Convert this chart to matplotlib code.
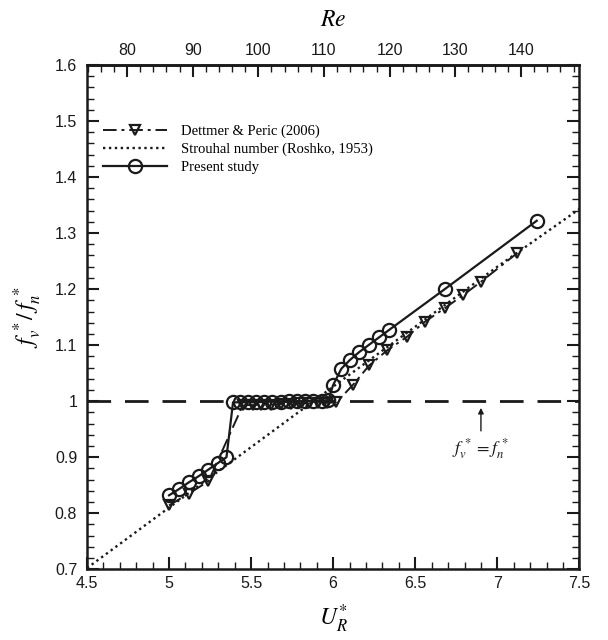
import matplotlib
matplotlib.use("Agg")
import matplotlib.pyplot as plt
from matplotlib.ticker import MultipleLocator, FuncFormatter

# ---------------- data ----------------
u_present = [5.00, 5.06, 5.12, 5.18, 5.24, 5.30, 5.35,
             5.39, 5.43, 5.48, 5.53, 5.58, 5.63, 5.68, 5.73, 5.78, 5.83, 5.88, 5.93, 5.97,
             6.00, 6.05, 6.10, 6.16, 6.22, 6.28, 6.34, 6.68, 7.24]
f_present = [0.832, 0.843, 0.855, 0.866, 0.878, 0.890, 0.900,
             0.998, 0.998, 0.998, 0.998, 0.999, 0.999, 0.999, 1.000, 1.000, 1.000, 1.001, 1.001, 1.002,
             1.029, 1.058, 1.073, 1.088, 1.101, 1.114, 1.127, 1.200, 1.322]

u_dettmer = [5.00, 5.12, 5.24,
             5.45, 5.51, 5.56, 5.62, 5.68, 5.74, 5.79, 5.85, 5.91, 5.96, 6.02,
             6.12, 6.22, 6.33, 6.45, 6.56, 6.68, 6.79, 6.90, 7.12]
f_dettmer = [0.814, 0.835, 0.857,
             0.993, 0.993, 0.994, 0.994, 0.995, 0.995, 0.996, 0.996, 0.997, 0.997, 0.998,
             1.029, 1.064, 1.091, 1.115, 1.142, 1.166, 1.189, 1.213, 1.264]

u_strouhal = [4.5, 5.0, 5.5, 6.0, 6.5, 7.0, 7.5]
f_strouhal = [0.702, 0.810, 0.918, 1.026, 1.133, 1.240, 1.343]

lock_in_level = 1.0

legend_labels = ["Dettmer & Peric (2006)", "Strouhal number (Roshko, 1953)", "Present study"]

# Re = a*U + b (top axis)
re_slope = 25.0
re_offset = -38.6

# ---------------- figure ----------------
plt.rcParams['font.family'] = ['Liberation Sans', 'DejaVu Sans']
plt.rcParams['mathtext.fontset'] = 'stix'

fig = plt.figure(figsize=(6.08, 6.4), dpi=100)
ax = fig.add_axes([0.143, 0.1105, 0.810, 0.788])

c = '#1a1a1a'
ax.plot(u_dettmer, f_dettmer, color=c, lw=1.4, ls=(0, (7, 2.5, 1.5, 2.5)),
        marker='v', ms=7.5, mfc='none', mec=c, mew=1.6, label=legend_labels[0])
ax.plot(u_strouhal, f_strouhal, color=c, lw=1.7, ls=(0, (1, 1.5)),
        label=legend_labels[1])
ax.plot(u_present, f_present, color=c, lw=1.6, ls='-',
        marker='o', ms=9.5, mfc='none', mec=c, mew=1.6, label=legend_labels[2])
ax.axhline(lock_in_level, color=c, lw=2.0, ls=(0, (8.5, 5)))

ax.set_xlim(4.5, 7.5)
ax.set_ylim(0.7, 1.6)

ax.xaxis.set_major_locator(MultipleLocator(0.5))
ax.xaxis.set_minor_locator(MultipleLocator(0.1))
ax.yaxis.set_major_locator(MultipleLocator(0.1))
ax.yaxis.set_minor_locator(MultipleLocator(0.02))
fmt = FuncFormatter(lambda v, p: ('%.1f' % v).rstrip('0').rstrip('.'))
ax.xaxis.set_major_formatter(fmt)
ax.yaxis.set_major_formatter(fmt)

ax.tick_params(which='both', direction='in', top=False, right=True, labelsize=11.5, colors=c)
ax.tick_params(which='major', length=8.5, width=1.5)
ax.tick_params(which='minor', length=5, width=1.0)
ax.tick_params(axis='x', which='major', pad=5)
ax.tick_params(axis='y', which='major', pad=7)
for s in ax.spines.values():
    s.set_linewidth(1.8)
    s.set_color(c)

sec = ax.secondary_xaxis('top', functions=(lambda u: re_slope * u + re_offset,
                                           lambda r: (r - re_offset) / re_slope))
sec.xaxis.set_major_locator(MultipleLocator(10))
sec.xaxis.set_minor_locator(MultipleLocator(2))
sec.tick_params(which='both', direction='in', labelsize=11.5, colors=c)
sec.tick_params(which='major', length=8.5, width=1.5, pad=5)
sec.tick_params(which='minor', length=5, width=1.0)
sec.spines['top'].set_linewidth(1.8)
sec.set_xlabel('$Re$', fontsize=17, labelpad=12)

ax.set_xlabel('$U_R^{*}$', fontsize=17, labelpad=8)
ax.set_ylabel('$f_v^{\\,*}/\\,f_n^{\\,*}$', fontsize=17, labelpad=8)

leg = ax.legend(loc='upper left', bbox_to_anchor=(0.02, 0.893), frameon=False,
                prop={'family': 'Liberation Serif', 'size': 10.5},
                handlelength=4.4, handletextpad=1.0, labelspacing=0.3, borderaxespad=0)

ax.annotate('', xy=(6.9, 0.993), xytext=(6.9, 0.942),
            arrowprops=dict(arrowstyle='-|>', color=c, lw=1.0, mutation_scale=8))
ax.text(6.9, 0.915, '$f_v^{\\,*}=f_n^{\\,*}$', ha='center', va='center', fontsize=13, color=c)

fig.savefig('out.png', dpi=100)
